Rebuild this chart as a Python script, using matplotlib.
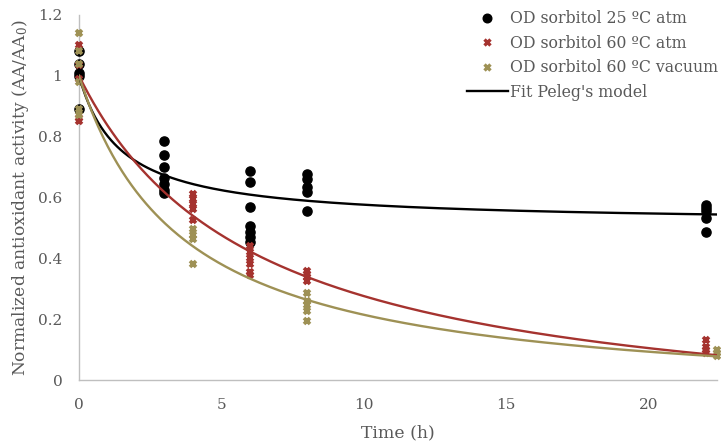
import numpy as np
import matplotlib
matplotlib.use("Agg")
import matplotlib.pyplot as plt
from matplotlib.lines import Line2D

# ---- data ----
t_25atm = [0, 0, 0, 0, 0,
           3, 3, 3, 3, 3, 3, 3,
           6, 6, 6, 6, 6, 6, 6,
           8, 8, 8, 8, 8,
           22, 22, 22, 22, 22]
aa_25atm = [1.08, 1.04, 1.01, 1.00, 0.89,
            0.785, 0.74, 0.70, 0.665, 0.645, 0.625, 0.615,
            0.688, 0.652, 0.57, 0.505, 0.488, 0.47, 0.455,
            0.677, 0.662, 0.635, 0.618, 0.555,
            0.575, 0.565, 0.554, 0.532, 0.485]

t_60atm = [0, 0, 0, 0, 0,
           4, 4, 4, 4, 4,
           6, 6, 6, 6, 6, 6,
           8, 8, 8, 8,
           22, 22, 22, 22]
aa_60atm = [1.10, 1.035, 0.99, 0.86, 0.85,
            0.612, 0.595, 0.58, 0.563, 0.526,
            0.44, 0.42, 0.40, 0.38, 0.355, 0.345,
            0.36, 0.35, 0.338, 0.325,
            0.13, 0.11, 0.10, 0.09]

t_60vac = [0, 0, 0, 0, 0, 0,
           4, 4, 4, 4,
           8, 8, 8, 8, 8,
           22.4, 22.4, 22.4]
aa_60vac = [1.14, 1.08, 1.04, 0.98, 0.89, 0.87,
            0.497, 0.478, 0.462, 0.38,
            0.287, 0.26, 0.245, 0.227, 0.195,
            0.10, 0.09, 0.08]

# Peleg model parameters (k1, k2): AA/AA0 = 1 - t/(k1 + k2 t)
peleg_25atm = (3.0, 2.06)
peleg_60atm = (5.28, 0.853)
peleg_60vac = (3.41, 0.932)

labels = ["OD sorbitol 25 \u00baC atm", "OD sorbitol 60 \u00baC atm",
          "OD sorbitol 60 \u00baC vacuum", "Fit Peleg's model"]
x_ticks = [0, 5, 10, 15, 20]
y_ticks = [0, 0.2, 0.4, 0.6, 0.8, 1.0, 1.2]
y_ticklabels = ["0", "0.2", "0.4", "0.6", "0.8", "1", "1.2"]

# ---- style ----
plt.rcParams['font.family'] = ['DejaVu Serif']
plt.rcParams['mathtext.fontset'] = 'dejavuserif'
text_col = '#595959'
c_black = '#000000'
c_red = '#A5332F'
c_khaki = '#9E9155'
fs = 11

fig = plt.figure(figsize=(7.21, 4.44), dpi=100)
ax = fig.add_axes([79/721, 1-380/444, (717-79)/721, (380-15)/444])

tt = np.linspace(0, 22.4, 400)
def peleg(t, k):
    return 1 - t / (k[0] + k[1] * t)

ax.plot(t_25atm, aa_25atm, 'o', color=c_black, ms=6.6, zorder=3, clip_on=False, label=labels[0])
ax.plot(t_60atm, aa_60atm, 'x', color=c_red, ms=5, mew=2.6, zorder=3, clip_on=False, label=labels[1])
ax.plot(t_60vac, aa_60vac, 'x', color=c_khaki, ms=5, mew=2.6, zorder=3, clip_on=False, label=labels[2])

ax.plot(tt, peleg(tt, peleg_25atm), '-', color=c_black, lw=1.7, zorder=4)
ax.plot(tt, peleg(tt, peleg_60atm), '-', color=c_red, lw=1.7, zorder=4)
ax.plot(tt, peleg(tt, peleg_60vac), '-', color=c_khaki, lw=1.7, zorder=4)

ax.set_xlim(0, 22.4)
ax.set_ylim(0, 1.2)
ax.set_xticks(x_ticks)
ax.set_yticks(y_ticks)
ax.set_yticklabels(y_ticklabels)
ax.tick_params(length=0, labelsize=fs, colors=text_col)
ax.tick_params(axis='x', pad=13)
ax.tick_params(axis='y', pad=12)
for s in ['top', 'right']:
    ax.spines[s].set_visible(False)
for s in ['left', 'bottom']:
    ax.spines[s].set_color('#BFBFBF')
    ax.spines[s].set_linewidth(1.0)

ax.set_xlabel("Time (h)", fontsize=12.4, color=text_col, labelpad=9)
ax.set_ylabel("Normalized antioxidant activity (AA/AA$_0$)", fontsize=12.3, color=text_col, labelpad=5)

handles = [
    Line2D([], [], ls='none', marker='o', color=c_black, ms=6.2),
    Line2D([], [], ls='none', marker='x', color=c_red, ms=5, mew=2.4),
    Line2D([], [], ls='none', marker='x', color=c_khaki, ms=5, mew=2.4),
    Line2D([], [], ls='-', color=c_black, lw=1.7),
]
leg = fig.legend(handles, labels, loc='upper left', bbox_to_anchor=(467/721, 1 - 10/444),
                 frameon=False, fontsize=11.3, labelcolor=text_col,
                 handlelength=2.6, handletextpad=0.15, labelspacing=0.48, borderpad=0.0,
                 borderaxespad=0.0)

fig.savefig("out.png", dpi=100)
